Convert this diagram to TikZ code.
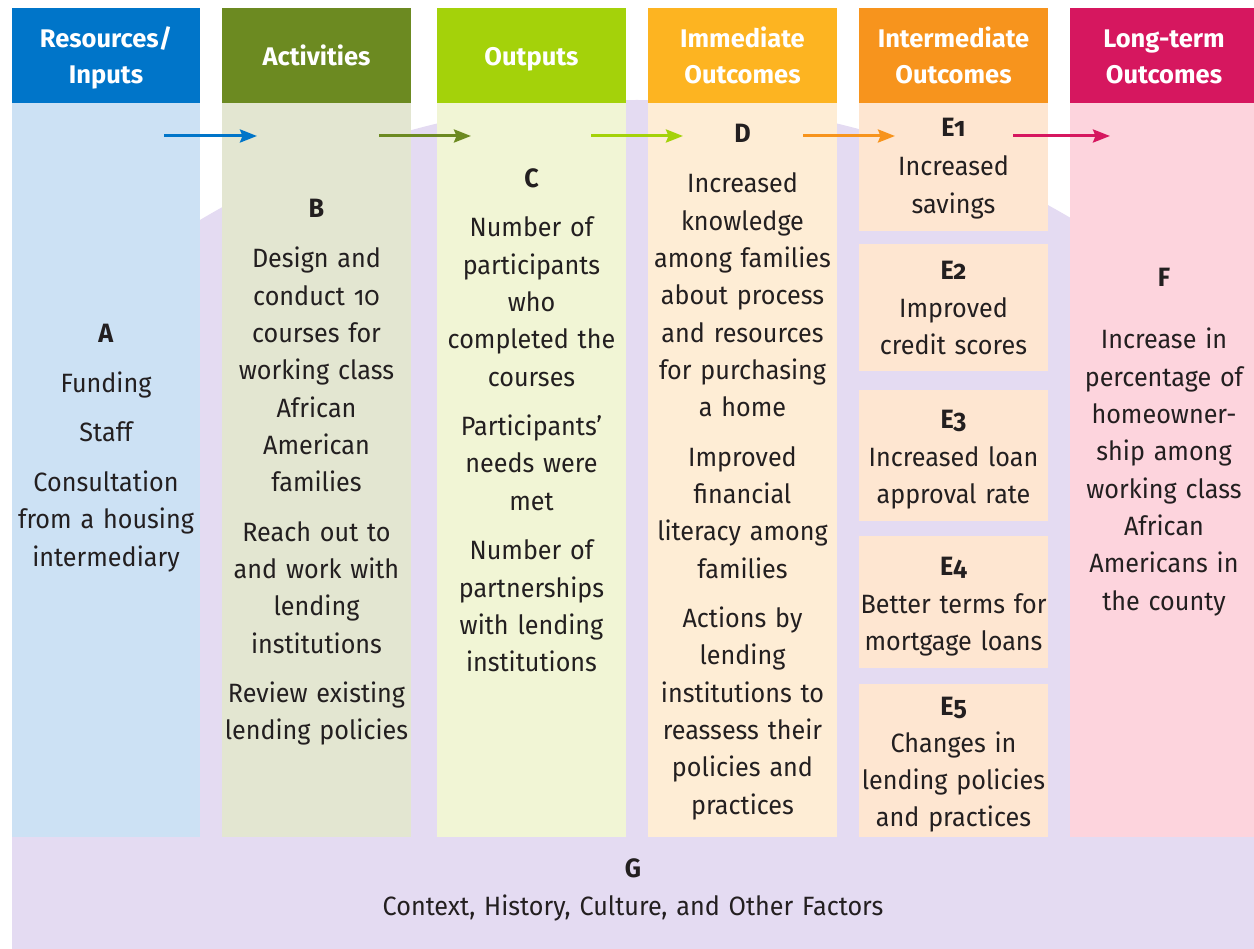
\documentclass[tikz,border=0pt]{standalone}
\usepackage{fontspec}
\setmainfont{Fira Sans}[Numbers=OldStyle, FakeStretch=0.95]
\newfontfamily\hdrfont{Fira Sans}[Numbers=OldStyle]
\usetikzlibrary{arrows.meta}
\definecolor{cAh}{HTML}{0075C9}
\definecolor{cAb}{HTML}{CCE1F4}
\definecolor{cBh}{HTML}{6C8A21}
\definecolor{cBb}{HTML}{E3E6D1}
\definecolor{cCh}{HTML}{A4D20A}
\definecolor{cCb}{HTML}{F1F5D5}
\definecolor{cDh}{HTML}{FDB421}
\definecolor{cDb}{HTML}{FEEDD5}
\definecolor{cEh}{HTML}{F7941D}
\definecolor{cEb}{HTML}{FEE6D1}
\definecolor{cFh}{HTML}{D6175F}
\definecolor{cFb}{HTML}{FDD4DD}
\definecolor{cPu}{HTML}{E4DBF2}
\definecolor{txt}{HTML}{231F20}
\tikzset{
  hdrbox/.style={inner sep=0, minimum width=#1pt, minimum height=95pt, anchor=north west},
  hdrtxt/.style={font=\hdrfont\fontsize{25.5}{36.5}\selectfont\bfseries, text=white, align=center, text width=200pt, anchor=base, inner sep=0},
  bodytxt/.style={font=\fontsize{26.5}{37.3}\selectfont, text=txt, align=center, text width=230pt, anchor=base, inner sep=0},
  flowarr/.style={line width=3pt, -{Stealth[length=17pt,width=13pt,inset=2.5pt]}},
}
\begin{document}
\begin{tikzpicture}[x=1pt,y=-1pt]
\useasboundingbox (0,0) rectangle (1254,949);
% purple background arch
\begin{scope}
  \clip (12,100) rectangle (1254,949);
  \fill[cPu] (637,955) circle [radius=855pt];
\end{scope}
% column bodies
\fill[cAb] (12,103) rectangle (200,837);
\fill[cBb] (222,103) rectangle (411,837);
\fill[cCb] (437,103) rectangle (626,837);
\fill[cDb] (648,103) rectangle (837,837);
\fill[cEb] (859,103) rectangle (1048,231);
\fill[cEb] (859,244) rectangle (1048,371);
\fill[cEb] (859,390) rectangle (1048,521);
\fill[cEb] (859,536) rectangle (1048,668);
\fill[cEb] (859,684) rectangle (1048,837);
\fill[cFb] (1070,103) rectangle (1254,837);
% headers
\node[hdrbox=188, fill=cAh] (hA) at (12,8) {};
\node[hdrbox=189, fill=cBh] (hB) at (222,8) {};
\node[hdrbox=189, fill=cCh] (hC) at (437,8) {};
\node[hdrbox=189, fill=cDh] (hD) at (648,8) {};
\node[hdrbox=189, fill=cEh] (hE) at (859,8) {};
\node[hdrbox=184, fill=cFh] (hF) at (1070,8) {};
\node[hdrtxt] (tA) at (106,47.5) {Resources/\\Inputs};
\node[hdrtxt] (tB) at (316.5,66) {Activities};
\node[hdrtxt] (tC) at (531.5,66) {Outputs};
\node[hdrtxt] (tD) at (742.5,47.5) {Immediate\\Outcomes};
\node[hdrtxt] (tE) at (953.5,47.5) {Intermediate\\Outcomes};
\node[hdrtxt] (tF) at (1164,47.5) {Long-term\\Outcomes};
% arrows
\coordinate (a1s) at (164,136); \coordinate (a1e) at (257,136);
\coordinate (a2s) at (379,136); \coordinate (a2e) at (471,136);
\coordinate (a3s) at (591,136); \coordinate (a3e) at (683,136);
\coordinate (a4s) at (803,136); \coordinate (a4e) at (895,136);
\coordinate (a5s) at (1013,136); \coordinate (a5e) at (1110,136);
\draw[flowarr, cAh] (a1s) -- (a1e);
\draw[flowarr, cBh] (a2s) -- (a2e);
\draw[flowarr, cCh] (a3s) -- (a3e);
\draw[flowarr, cEh] (a4s) -- (a4e);
\draw[flowarr, cFh] (a5s) -- (a5e);
% body texts
\node[bodytxt] (bA) at (106,343) {\textbf{A}\\[12.2pt]Funding\\[12.2pt]Staff\\[12.2pt]Consultation\\from a housing\\intermediary};
\node[bodytxt] (bB) at (316.5,218) {\textbf{B}\\[12.7pt]Design and\\conduct 10\\courses for\\working class\\African\\American\\families\\[12.2pt]Reach out to\\and work with\\lending\\institutions\\[12.2pt]Review existing\\lending policies};
\node[bodytxt] (bC) at (531.5,188) {\textbf{C}\\[11.7pt]Number of\\participants\\who\\completed the\\courses\\[12.2pt]Participants'\\needs were\\met\\[12.2pt]Number of\\partnerships\\with lending\\institutions};
\node[bodytxt] (bD) at (742.5,143) {\textbf{D}\\[12.7pt]Increased\\knowledge\\among families\\about process\\and resources\\for purchasing\\a home\\[12.2pt]Improved\\financial\\literacy among\\families\\[12.2pt]Actions by\\lending\\institutions to\\reassess their\\policies and\\practices};
\node[bodytxt] (bE1) at (953.5,137) {\textbf{E1}\\[1.5pt]Increased\\savings};
\node[bodytxt] (bE2) at (953.5,280) {\textbf{E2}\\Improved\\credit scores};
\node[bodytxt] (bE3) at (953.5,429) {\textbf{E3}\\Increased loan\\approval rate};
\node[bodytxt] (bE4) at (953.5,576) {\textbf{E4}\\Better terms for\\mortgage loans};
\node[bodytxt] (bE5) at (953.5,715) {\textbf{E5}\\Changes in\\lending policies\\and practices};
\node[bodytxt] (bF) at (1164,287) {\textbf{F}\\[24.7pt]Increase in\\percentage of\\homeowner-\\ship among\\working class\\African\\Americans in\\the county};
\node[bodytxt, text width=800pt] (bG) at (633,877) {\textbf{G}\\[0.7pt]Context, History, Culture, and Other Factors};
\end{tikzpicture}
\end{document}
